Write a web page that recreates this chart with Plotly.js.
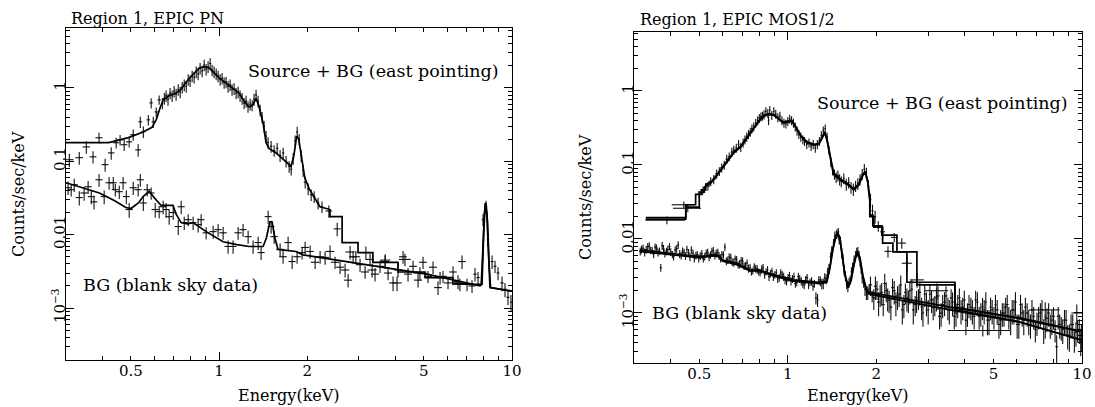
<!DOCTYPE html>
<html><head><meta charset="utf-8">
<script src="https://cdn.plot.ly/plotly-3.0.1.min.js"></script>
<style>html,body{margin:0;padding:0;background:#fff}#chart{width:1095px;height:407px}</style>
</head><body><div id="chart"></div>
<script>
// ---------- tick labels ----------
const xMajorVals = [1, 10];
const xMajorText = ['1', '10'];
const xMinorVals = [0.3,0.4,0.5,0.6,0.7,0.8,0.9,2,3,4,5,6,7,8,9];
const xMinorText = ['','','0.5','','','','','2','','','5','','','',''];
const yMajorVals = [0.001, 0.01, 0.1, 1];
const yMajorText = ['10<sup>\u22123</sup>', '0.01', '0.1', '1'];
const yMinorVals = [0.0002,0.0003,0.0004,0.0005,0.0006,0.0007,0.0008,0.0009,
  0.002,0.003,0.004,0.005,0.006,0.007,0.008,0.009,
  0.02,0.03,0.04,0.05,0.06,0.07,0.08,0.09,
  0.2,0.3,0.4,0.5,0.6,0.7,0.8,0.9,2,3,4,5,6];

// ---------- EPIC PN : Source + BG ----------
const pnSrcE = [0.308,0.333,0.352,0.371,0.389,0.408,0.428,0.445,0.459,0.474,0.493,0.509,0.529,0.538,0.551,0.573,0.586,0.596,0.610,0.624,
  0.640,0.650,0.659,0.669,0.680,0.691,0.702,0.713,0.725,0.736,0.748,0.760,0.772,0.784,
  0.796,0.809,0.822,0.835,0.848,0.861,0.875,0.889,0.903,0.917,
  0.932,0.946,0.961,0.977,0.992,1.008,1.024,1.040,
  1.056,1.073,1.090,1.107,1.125,1.143,1.161,1.179,
  1.198,1.217,1.236,1.255,1.276,1.296,1.316,
  1.337,1.358,1.380,1.402,1.424,1.446,1.469,
  1.505,1.541,1.578,1.615,1.654,1.693,
  1.734,1.762,1.790,1.818,1.847,1.876,1.906,1.936,
  1.967,2.014,2.062,2.111,2.177,2.245,
  2.37,2.53,2.80,2.93,3.17,3.33,3.69,4.05,4.31,4.85,5.68,6.64];
const pnSrcY = [0.105,0.112,0.157,0.115,0.209,0.090,0.130,0.179,0.196,0.168,0.184,0.23,0.143,0.345,0.252,0.367,0.625,0.345,0.47,0.687,
  0.62,0.72,0.78,0.70,0.85,0.78,0.90,0.82,0.95,0.88,1.02,1.10,1.05,1.30,
  1.25,1.45,1.40,1.65,1.55,1.85,1.70,2.05,1.80,1.95,
  2.15,1.75,1.65,1.55,1.45,1.30,1.35,1.18,
  1.20,1.05,1.10,0.95,0.98,0.85,0.88,0.78,
  0.72,0.62,0.66,0.56,0.60,0.58,0.70,
  0.80,0.66,0.50,0.40,0.30,0.22,0.18,
  0.16,0.14,0.15,0.12,0.13,0.10,
  0.085,0.078,0.11,0.19,0.25,0.20,0.12,0.075,
  0.052,0.042,0.035,0.033,0.027,0.024,
  0.021,0.012,0.0058,0.0050,0.0057,0.0033,0.0045,0.0022,0.0046,0.0030,0.0026,0.0021];
const pnSrcDE = [0.010,0.010,0.010,0.010,0.011,0.011,0.011,0.012,0.012,0.012,0.012,0.012,0.012,0.008,0.008,0.008,0.008,0.008,0.008,0.008,
  0.005,0.005,0.005,0.005,0.005,0.005,0.005,0.005,0.005,0.005,0.005,0.005,0.005,0.005,
  0.006,0.006,0.006,0.006,0.006,0.006,0.006,0.006,0.006,0.006,
  0.008,0.008,0.008,0.008,0.008,0.008,0.008,0.008,
  0.008,0.008,0.008,0.008,0.008,0.008,0.008,0.008,
  0.010,0.010,0.010,0.010,0.010,0.010,0.010,
  0.010,0.010,0.010,0.010,0.010,0.010,0.010,
  0.015,0.015,0.015,0.015,0.015,0.015,
  0.015,0.015,0.015,0.015,0.015,0.015,0.015,0.015,
  0.022,0.022,0.022,0.022,0.022,0.022,
  0.06,0.07,0.10,0.10,0.12,0.12,0.15,0.15,0.20,0.25,0.30,0.40];
const pnSrcDY = [0.022,0.022,0.03,0.022,0.035,0.018,0.025,0.03,0.032,0.03,0.03,0.04,0.028,0.06,0.045,0.06,0.1,0.06,0.07,0.1,
  0.11,0.13,0.14,0.13,0.15,0.14,0.16,0.15,0.17,0.16,0.18,0.20,0.19,0.23,
  0.22,0.26,0.25,0.30,0.28,0.33,0.30,0.37,0.32,0.35,
  0.38,0.31,0.30,0.28,0.26,0.23,0.24,0.21,
  0.21,0.19,0.20,0.17,0.18,0.15,0.16,0.14,
  0.13,0.11,0.12,0.10,0.11,0.10,0.13,
  0.14,0.12,0.09,0.07,0.054,0.04,0.032,
  0.029,0.025,0.027,0.022,0.023,0.018,
  0.015,0.014,0.02,0.034,0.045,0.036,0.022,0.0135,
  0.0094,0.0076,0.0063,0.0059,0.0049,0.0043,
  0.004,0.0025,0.0012,0.001,0.0012,0.0007,0.0009,0.0005,0.0009,0.0006,0.0005,0.0004];
const pnSrcModelE = [0.30,0.42,0.49,0.55,0.59,0.61,0.63,0.645,0.68,0.713,0.74,0.772,0.81,0.855,0.89,0.924,0.96,1.0,1.08,1.17,1.22,1.266,1.30,1.338,1.37,1.413,1.446,1.48,1.565,1.693,1.76,1.80,1.84,1.87,1.90,1.96,2.03,2.09,2.21,2.39,2.39,2.63,2.63,2.98,2.98,3.35,3.35,4.08,4.08,5.05,5.05,6.28,6.28,7.40,7.85,7.95,8.05,8.15,8.25,8.35,8.45,10];
const pnSrcModelY = [0.18,0.18,0.21,0.25,0.29,0.37,0.55,0.69,0.80,0.85,0.95,1.2,1.5,1.87,1.95,1.87,1.6,1.37,1.08,0.85,0.65,0.55,0.58,0.72,0.55,0.33,0.18,0.15,0.13,0.096,0.085,0.12,0.22,0.20,0.13,0.06,0.042,0.035,0.024,0.022,0.0176,0.0176,0.0078,0.0078,0.0057,0.0057,0.0042,0.0042,0.0031,0.0031,0.0026,0.0026,0.0022,0.0021,0.0021,0.006,0.02,0.027,0.015,0.004,0.0019,0.0017];

// ---------- EPIC PN : blank sky BG ----------
const pnBgE = [0.305,0.3125,0.320,0.333,0.346,0.357,0.366,0.374,0.389,0.405,0.421,0.435,0.442,0.456,0.470,0.482,0.493,0.509,0.529,0.538,
  0.551,0.568,0.586,0.605,0.624,0.644,0.659,0.675,0.697,0.725,0.742,0.760,0.784,0.815,0.848,0.868,0.903,0.954,0.992,1.032,
  1.073,1.116,1.161,1.207,1.256,1.306,1.359,1.391,1.470,1.505,1.541,1.615,1.653,1.720,1.775,1.846,1.920,1.966,2.045,2.127,
  2.212,2.300,2.392,2.488,2.588,2.692,2.756,2.867,3.028,3.150,3.276,3.407,3.544,3.686,3.774,3.925,4.082,4.246,4.416,4.593,
  4.777,4.968,5.167,5.375,5.590,5.814,6.047,6.290,6.541,6.751,7.022,7.303,7.477,7.656,7.962,8.153,8.28,8.55,8.75,8.96,
  9.245,9.465,9.69,9.92];
const pnBgY = [0.0436,0.041,0.048,0.032,0.037,0.045,0.033,0.028,0.056,0.033,0.051,0.051,0.041,0.0385,0.051,0.033,0.022,0.0436,0.041,0.056,
  0.027,0.041,0.037,0.022,0.0206,0.024,0.022,0.0176,0.020,0.0129,0.024,0.0146,0.016,0.0146,0.0137,0.016,0.0106,0.011,0.0117,0.0106,
  0.0069,0.0069,0.0106,0.0117,0.0094,0.0069,0.0078,0.0057,0.0176,0.0129,0.0094,0.0063,0.0050,0.0078,0.0043,0.0050,0.0057,0.0067,0.0059,0.0042,
  0.0050,0.0049,0.0059,0.0042,0.0036,0.0033,0.0024,0.0050,0.0039,0.0031,0.0046,0.0029,0.0037,0.0043,0.0030,0.0022,0.0033,0.0050,0.0029,0.0037,
  0.0024,0.0042,0.0027,0.0036,0.0019,0.0027,0.0022,0.0031,0.0023,0.0043,0.0021,0.0020,0.0029,0.0026,0.016,0.024,0.0086,0.0043,0.0037,0.0030,
  0.0022,0.0018,0.0014,0.0012];
const pnBgDE = [0.008,0.008,0.009,0.009,0.010,0.010,0.010,0.010,0.011,0.011,0.012,0.012,0.012,0.013,0.013,0.013,0.014,0.014,0.015,0.015,
  0.015,0.016,0.016,0.017,0.017,0.018,0.018,0.019,0.019,0.020,0.021,0.021,0.022,0.023,0.024,0.024,0.025,0.027,0.028,0.030,
  0.030,0.030,0.033,0.034,0.035,0.037,0.038,0.039,0.040,0.040,0.045,0.050,0.050,0.050,0.050,0.055,0.060,0.060,0.060,0.070,
  0.070,0.070,0.080,0.080,0.080,0.090,0.090,0.090,0.10,0.10,0.10,0.11,0.11,0.12,0.12,0.12,0.13,0.13,0.14,0.14,
  0.15,0.15,0.16,0.17,0.17,0.18,0.19,0.19,0.20,0.20,0.20,0.20,0.10,0.10,0.08,0.08,0.08,0.10,0.10,0.10,
  0.12,0.12,0.12,0.08];
const pnBgDY = [0.009,0.008,0.010,0.007,0.008,0.009,0.007,0.006,0.011,0.007,0.010,0.010,0.008,0.008,0.010,0.007,0.005,0.009,0.008,0.011,
  0.006,0.008,0.007,0.005,0.004,0.005,0.005,0.004,0.004,0.003,0.005,0.003,0.003,0.003,0.003,0.003,0.002,0.0022,0.0023,0.0021,
  0.0014,0.0014,0.0021,0.0023,0.0019,0.0014,0.0016,0.0012,0.0035,0.0026,0.0019,0.0013,0.001,0.0016,0.0009,0.001,0.0011,0.0013,0.0012,0.0008,
  0.001,0.001,0.0012,0.0008,0.0007,0.0007,0.0005,0.001,0.0008,0.0006,0.0009,0.0006,0.0007,0.0009,0.0006,0.0005,0.0007,0.001,0.0006,0.0007,
  0.0005,0.0008,0.0005,0.0007,0.0004,0.0005,0.0004,0.0006,0.0005,0.0009,0.0004,0.0004,0.0006,0.0005,0.003,0.005,0.0017,0.0009,0.0007,0.0006,
  0.0005,0.0004,0.0003,0.0003];
const pnBgModelE = [0.30,0.39,0.44,0.48,0.50,0.53,0.55,0.577,0.60,0.619,0.634,0.696,0.713,0.742,0.78,0.815,0.86,0.903,1.032,1.15,1.266,1.413,1.45,1.49,1.516,1.55,1.589,1.83,1.935,3.03,5.12,7.77,7.9,8.0,8.1,8.2,8.3,8.41,10];
const pnBgModelY = [0.051,0.037,0.029,0.0234,0.0227,0.027,0.033,0.039,0.032,0.028,0.025,0.025,0.019,0.0146,0.014,0.0146,0.0125,0.011,0.008,0.0073,0.0069,0.0069,0.009,0.015,0.015,0.009,0.0063,0.0059,0.0053,0.0040,0.0029,0.0020,0.0021,0.01,0.027,0.02,0.005,0.0019,0.0017];

// ---------- EPIC MOS1/2 : Source + BG ----------
const mosSrcE = [0.388,0.443,0.457,0.50,0.515,0.535,0.547,0.56,0.573,0.585,0.596,0.608,0.62,0.632,0.645,0.655,0.668,0.68,0.692,0.705,
  0.715,0.725,0.735,0.745,0.755,0.766,0.778,0.79,0.80,0.81,0.82,0.83,0.842,0.855,0.86,0.868,0.882,0.896,0.91,0.925,
  0.94,0.955,0.97,0.985,1.0,1.015,1.03,1.045,1.06,1.075,1.09,1.107,1.125,1.14,1.16,1.18,1.20,1.22,1.24,1.26,
  1.28,1.30,1.32,1.34,1.36,1.38,1.40,1.42,1.44,1.46,1.48,1.50,1.52,1.55,1.58,1.61,1.64,1.67,1.70,1.73,
  1.76,1.79,1.82,1.85,1.88,1.91,1.94,1.98,2.03,2.10,2.19,2.30,2.44,2.54,2.75,3.21,4.6,7.5,9.6];
const mosSrcY = [0.018,0.029,0.026,0.040,0.046,0.052,0.060,0.064,0.076,0.082,0.092,0.10,0.12,0.13,0.15,0.16,0.17,0.19,0.175,0.20,
  0.22,0.24,0.26,0.28,0.31,0.33,0.37,0.40,0.43,0.45,0.46,0.48,0.53,0.50,0.40,0.55,0.47,0.53,0.49,0.44,
  0.46,0.40,0.37,0.36,0.39,0.42,0.40,0.37,0.33,0.29,0.26,0.24,0.22,0.21,0.19,0.20,0.18,0.19,0.17,0.19,
  0.21,0.25,0.29,0.31,0.24,0.16,0.11,0.085,0.075,0.068,0.072,0.064,0.060,0.066,0.055,0.058,0.050,0.047,0.052,0.056,
  0.064,0.075,0.088,0.078,0.052,0.034,0.024,0.020,0.015,0.0125,0.0068,0.0105,0.0088,0.0047,0.0028,0.0020,0.00058,0.0011,0.0010];
const mosSrcDE = [0.06,0.04,0.05,0.014,0.012,0.01,0.01,0.008,0.008,0.007,0.007,0.007,0.006,0.006,0.006,0.005,0.005,0.005,0.005,0.005,
  0.005,0.005,0.005,0.005,0.005,0.005,0.005,0.005,0.005,0.005,0.005,0.005,0.005,0.005,0.005,0.005,0.005,0.005,0.005,0.005,
  0.006,0.006,0.006,0.006,0.006,0.006,0.006,0.006,0.006,0.006,0.007,0.007,0.007,0.007,0.007,0.007,0.007,0.007,0.007,0.008,
  0.008,0.008,0.008,0.008,0.008,0.008,0.008,0.009,0.009,0.009,0.009,0.01,0.01,0.01,0.01,0.01,0.011,0.011,0.011,0.011,
  0.012,0.012,0.012,0.012,0.013,0.013,0.014,0.016,0.03,0.04,0.06,0.06,0.08,0.10,0.15,0.30,1.1,0.9,0.4];
const mosSrcDY = [0.0022,0.003,0.003,0.004,0.005,0.007,0.008,0.009,0.011,0.011,0.013,0.014,0.017,0.018,0.021,0.022,0.024,0.027,0.025,0.028,
  0.031,0.034,0.036,0.039,0.043,0.046,0.052,0.056,0.06,0.063,0.064,0.067,0.074,0.07,0.056,0.077,0.066,0.074,0.069,0.062,
  0.064,0.056,0.052,0.05,0.055,0.059,0.056,0.052,0.046,0.041,0.036,0.034,0.031,0.029,0.027,0.028,0.025,0.027,0.024,0.027,
  0.029,0.035,0.041,0.043,0.034,0.022,0.015,0.013,0.012,0.011,0.012,0.011,0.01,0.011,0.01,0.01,0.009,0.009,0.009,0.01,
  0.011,0.013,0.015,0.014,0.01,0.007,0.005,0.004,0.0025,0.002,0.0012,0.0015,0.0014,0.001,0.0006,0.0005,0.0001,0.0003,0.0003];
const mos1SrcModelE = [0.329,0.45,0.45,0.486,0.486,0.51,0.51,0.526,0.526,0.547,0.573,0.596,0.62,0.655,0.692,0.725,0.766,0.81,0.842,0.87,0.896,0.93,0.96,1.0,1.03,1.06,1.107,1.16,1.226,1.275,1.31,1.335,1.357,1.40,1.43,1.514,1.587,1.677,1.74,1.80,1.835,1.87,1.90,1.90,1.946,1.946,2.088,2.088,2.349,2.349,2.747,2.747,3.70,3.70,6,10];
const mos1SrcModelY = [0.0195,0.0195,0.029,0.029,0.040,0.040,0.046,0.046,0.055,0.058,0.073,0.09,0.115,0.15,0.18,0.235,0.32,0.43,0.48,0.49,0.48,0.43,0.38,0.39,0.40,0.34,0.25,0.205,0.19,0.195,0.24,0.28,0.23,0.12,0.078,0.064,0.057,0.048,0.055,0.075,0.082,0.06,0.035,0.021,0.021,0.015,0.015,0.0113,0.0113,0.0067,0.0067,0.0024,0.0024,0.0012,0.00085,0.00056];
const mos2SrcModelE = [0.329,0.45,0.45,0.50,0.50,0.52,0.52,0.547,0.573,0.596,0.62,0.655,0.692,0.725,0.766,0.81,0.842,0.87,0.896,0.93,0.96,1.0,1.03,1.06,1.107,1.16,1.226,1.275,1.31,1.335,1.357,1.40,1.43,1.514,1.587,1.677,1.74,1.80,1.835,1.87,1.90,1.90,1.96,1.96,2.10,2.10,2.276,2.276,2.54,2.54,3.70,3.70,6,10];
const mos2SrcModelY = [0.0185,0.0185,0.027,0.027,0.043,0.043,0.050,0.057,0.071,0.087,0.11,0.145,0.175,0.23,0.31,0.42,0.47,0.48,0.47,0.42,0.37,0.38,0.39,0.33,0.245,0.2,0.185,0.19,0.235,0.27,0.22,0.115,0.075,0.062,0.055,0.046,0.053,0.072,0.079,0.058,0.033,0.02,0.02,0.0145,0.0145,0.0088,0.0088,0.0067,0.0067,0.0026,0.0026,0.0011,0.00078,0.00043];

// ---------- EPIC MOS1 : blank sky BG ----------
const mosBgE = [0.315,0.322,0.330,0.338,0.346,0.354,0.362,0.370,0.378,0.387,0.396,0.405,0.414,0.424,0.434,0.444,0.454,0.465,0.476,0.487,
  0.498,0.510,0.522,0.534,0.546,0.558,0.571,0.584,0.597,0.611,0.625,0.640,0.655,0.670,0.686,0.702,0.718,0.735,0.752,0.769,
  0.787,0.805,0.824,0.843,0.863,0.883,0.903,0.924,0.946,0.968,0.990,1.013,1.037,1.061,1.086,1.111,1.137,1.163,1.190,1.218,
  1.246,1.262,1.275,1.305,1.335,1.366,1.398,1.430,1.463,1.485,1.510,1.540,1.570,1.600,1.630,1.660,1.700,1.730,1.760,1.790,
  1.830,1.870,1.91,1.96,2.01,2.06,2.11,2.16,2.21,2.27,2.33,2.39,2.45,2.51,2.57,2.64,2.71,2.78,2.85,2.92,
  3.00,3.08,3.16,3.24,3.32,3.41,3.50,3.59,3.68,3.78,3.88,3.98,4.08,4.19,4.30,4.41,4.53,4.65,4.77,4.89,
  5.02,5.15,5.29,5.43,5.57,5.72,5.87,6.02,6.18,6.34,6.51,6.68,6.85,7.03,7.22,7.41,7.60,7.80,8.00,8.20,
  8.40,8.60,8.83,9.06,9.30,9.54,9.79,9.95];
const mosBgY = [0.0068,0.0075,0.0072,0.0080,0.0070,0.0078,0.0066,0.0041,0.0074,0.0068,0.0079,0.0062,0.0071,0.0083,0.0060,0.0066,0.0072,0.0057,0.0064,0.0060,
  0.0055,0.0063,0.0058,0.0066,0.0061,0.0070,0.0064,0.0059,0.0062,0.0078,0.0052,0.0056,0.0048,0.0053,0.0046,0.0050,0.0044,0.0040,0.0036,0.0042,
  0.0039,0.0035,0.0041,0.0036,0.0031,0.0037,0.0033,0.0029,0.0035,0.0031,0.0027,0.0032,0.0029,0.0025,0.0031,0.0027,0.0024,0.0030,0.0026,0.0023,
  0.0016,0.0015,0.0028,0.0025,0.0030,0.0036,0.0058,0.0088,0.0115,0.0125,0.0095,0.0055,0.0032,0.0023,0.0028,0.0042,0.0060,0.0068,0.0050,0.0030,
  0.0021,0.0019,0.0024,0.0016,0.0021,0.0018,0.0013,0.0020,0.0015,0.0022,0.0014,0.0018,0.0011,0.0019,0.0015,0.0021,0.0013,0.0016,0.0012,0.0018,
  0.0011,0.0015,0.0013,0.0017,0.0010,0.0014,0.0012,0.0016,0.0009,0.0013,0.0011,0.0015,0.0010,0.0012,0.0009,0.0014,0.0010,0.0011,0.0008,0.0012,
  0.0009,0.0011,0.0008,0.0010,0.0013,0.0008,0.0011,0.0007,0.0013,0.0008,0.0010,0.0007,0.0009,0.00075,0.0010,0.0006,0.00085,0.0007,0.0009,0.00035,
  0.0007,0.0006,0.0008,0.0005,0.0007,0.00055,0.0006,0.0005];
const mosBgDE = [0.003,0.003,0.003,0.003,0.003,0.003,0.003,0.003,0.003,0.003,0.003,0.003,0.003,0.003,0.003,0.003,0.003,0.003,0.003,0.003,
  0.003,0.004,0.004,0.004,0.004,0.004,0.004,0.004,0.004,0.004,0.004,0.004,0.004,0.004,0.004,0.004,0.004,0.004,0.004,0.006,
  0.006,0.006,0.006,0.006,0.006,0.006,0.006,0.006,0.006,0.006,0.006,0.01,0.01,0.01,0.01,0.01,0.01,0.01,0.01,0.01,
  0.01,0.01,0.01,0.01,0.01,0.01,0.01,0.01,0.01,0.01,0.01,0.01,0.01,0.01,0.01,0.01,0.01,0.01,0.01,0.01,
  0.01,0.01,0.025,0.025,0.025,0.025,0.025,0.025,0.025,0.025,0.025,0.025,0.025,0.025,0.025,0.025,0.025,0.025,0.025,0.025,
  0.025,0.04,0.04,0.04,0.04,0.04,0.04,0.04,0.04,0.04,0.04,0.04,0.04,0.04,0.04,0.04,0.04,0.04,0.04,0.04,
  0.04,0.06,0.06,0.06,0.06,0.06,0.06,0.06,0.06,0.06,0.06,0.06,0.06,0.06,0.09,0.09,0.09,0.09,0.09,0.09,
  0.09,0.09,0.09,0.09,0.09,0.09,0.09,0.09];
const mosBgDY = [0.0008,0.0009,0.0009,0.001,0.0008,0.0009,0.0008,0.0005,0.0009,0.0008,0.0009,0.0007,0.0009,0.001,0.0007,0.0008,0.0009,0.0007,0.0008,0.0007,
  0.0007,0.0008,0.0007,0.0008,0.0007,0.0008,0.0008,0.0007,0.0007,0.0009,0.0006,0.0007,0.0006,0.0006,0.0006,0.0006,0.0005,0.0005,0.0004,0.0005,
  0.0005,0.0004,0.0005,0.0004,0.0004,0.0004,0.0004,0.00035,0.0004,0.0004,0.00035,0.0004,0.00035,0.0003,0.0004,0.00035,0.0003,0.00035,0.0003,0.0003,
  0.0003,0.0003,0.00035,0.0004,0.00045,0.0005,0.0008,0.0012,0.0015,0.0016,0.0013,0.0008,0.0005,0.0004,0.0004,0.0006,0.0009,0.001,0.0008,0.0005,
  0.0004,0.0004,0.0007,0.0005,0.0006,0.0006,0.0004,0.0006,0.0005,0.0007,0.0005,0.0006,0.0004,0.0006,0.0005,0.0007,0.0004,0.0005,0.0004,0.0006,
  0.0004,0.0005,0.0004,0.0006,0.00035,0.0005,0.0004,0.0005,0.0003,0.00045,0.0004,0.0005,0.00035,0.0004,0.0003,0.0005,0.00035,0.0004,0.0003,0.0004,
  0.0003,0.0004,0.0003,0.00035,0.00045,0.0003,0.0004,0.00025,0.00045,0.0003,0.00035,0.00025,0.0003,0.00026,0.00035,0.00022,0.0003,0.00025,0.0003,0.00015,
  0.00025,0.00022,0.0003,0.0002,0.00025,0.0002,0.00022,0.0002];

// ---------- EPIC MOS2 : blank sky BG ----------
const mos2BgE = [0.318,0.326,0.334,0.342,0.350,0.358,0.366,0.374,0.382,0.391,0.400,0.409,0.419,0.429,0.439,0.449,0.460,0.470,0.481,0.492,
  0.504,0.516,0.528,0.540,0.552,0.565,0.578,0.591,0.604,0.618,0.632,0.647,0.662,0.678,0.694,0.710,0.727,0.744,0.760,0.778,
  0.796,0.815,0.834,0.853,0.873,0.893,0.914,0.935,0.957,0.979,1.001,1.025,1.049,1.073,1.098,1.124,1.150,1.176,1.204,1.232,
  1.29,1.32,1.35,1.38,1.41,1.445,1.47,1.495,1.525,1.555,1.585,1.615,1.645,1.68,1.715,1.745,1.775,1.81,1.85,1.89,1.935,
  1.985,2.035,2.085,2.135,2.185,2.24,2.30,2.36,2.42,2.48,2.54,2.60,2.67,2.74,2.81,2.88,2.96,3.04,3.12,3.20,
  3.28,3.36,3.45,3.54,3.63,3.73,3.83,3.93,4.03,4.13,4.24,4.35,4.47,4.59,4.71,4.83,4.95,5.08,5.22,5.36,
  5.50,5.64,5.79,5.94,6.10,6.26,6.42,6.59,6.76,6.94,7.12,7.31,7.50,7.70,7.90,8.10,8.30,8.50,8.72,8.94,
  9.18,9.42,9.66,9.90];
const mos2BgY = [0.0072,0.0066,0.0079,0.0070,0.0063,0.0075,0.0069,0.0081,0.0064,0.0072,0.0067,0.0058,0.0074,0.0063,0.0069,0.0059,0.0065,0.0071,0.0055,0.0062,
  0.0059,0.0054,0.0064,0.0057,0.0068,0.0060,0.0066,0.0055,0.0061,0.0050,0.0057,0.0049,0.0054,0.0045,0.0051,0.0043,0.0047,0.0041,0.0037,0.0040,
  0.0036,0.0039,0.0033,0.0038,0.0034,0.0031,0.0035,0.0030,0.0033,0.0028,0.0030,0.0027,0.0031,0.0026,0.0029,0.0025,0.0028,0.0024,0.0027,0.0025,
  0.0027,0.0025,0.0029,0.0040,0.0070,0.0110,0.0118,0.0098,0.0065,0.0038,0.0025,0.0026,0.0036,0.0052,0.0066,0.0060,0.0040,0.0026,0.0018,0.0021,0.0017,
  0.0023,0.0014,0.0019,0.0025,0.0016,0.0012,0.0020,0.0017,0.0024,0.0013,0.0016,0.0020,0.0011,0.0015,0.0019,0.0010,0.0014,0.0018,0.0012,0.0016,
  0.0009,0.0013,0.0017,0.0011,0.0014,0.0010,0.0016,0.0012,0.0008,0.0013,0.0011,0.0015,0.0009,0.0012,0.0014,0.0008,0.0011,0.0013,0.0007,0.0010,
  0.0012,0.0009,0.0011,0.0014,0.0007,0.0010,0.0012,0.0008,0.0011,0.0006,0.0009,0.0011,0.0007,0.0010,0.0008,0.0006,0.0009,0.00065,0.0008,0.0005,
  0.0007,0.00045,0.0006,0.0004];
const mos2BgDE = [0.003,0.003,0.003,0.003,0.003,0.003,0.003,0.003,0.003,0.003,0.003,0.003,0.003,0.003,0.003,0.003,0.003,0.003,0.003,0.003,
  0.004,0.004,0.004,0.004,0.004,0.004,0.004,0.004,0.004,0.004,0.004,0.004,0.004,0.004,0.004,0.004,0.004,0.004,0.004,0.006,
  0.006,0.006,0.006,0.006,0.006,0.006,0.006,0.006,0.006,0.006,0.006,0.006,0.006,0.006,0.006,0.006,0.006,0.006,0.006,0.006,
  0.01,0.01,0.01,0.01,0.01,0.01,0.01,0.01,0.01,0.01,0.01,0.01,0.01,0.01,0.01,0.01,0.01,0.01,0.01,0.01,0.01,
  0.025,0.025,0.025,0.025,0.025,0.025,0.025,0.025,0.025,0.025,0.025,0.025,0.025,0.025,0.025,0.025,0.025,0.025,0.04,0.04,
  0.04,0.04,0.04,0.04,0.04,0.04,0.04,0.04,0.04,0.04,0.04,0.04,0.04,0.04,0.04,0.04,0.04,0.04,0.06,0.06,
  0.06,0.06,0.06,0.06,0.06,0.06,0.06,0.06,0.06,0.06,0.06,0.09,0.09,0.09,0.09,0.09,0.09,0.09,0.09,0.09,
  0.09,0.09,0.09,0.09];
const mos2BgDY = [0.0009,0.0008,0.0009,0.0008,0.0008,0.0009,0.0008,0.001,0.0008,0.0009,0.0008,0.0007,0.0009,0.0008,0.0008,0.0007,0.0008,0.0009,0.0007,0.0007,
  0.0007,0.0006,0.0008,0.0007,0.0008,0.0007,0.0008,0.0007,0.0007,0.0006,0.0007,0.0006,0.0006,0.0005,0.0006,0.0005,0.0006,0.0005,0.0004,0.0005,
  0.0004,0.0005,0.0004,0.0005,0.0004,0.0004,0.0004,0.00035,0.0004,0.00035,0.00035,0.00035,0.0004,0.0003,0.00035,0.0003,0.00035,0.0003,0.00035,0.0003,
  0.0004,0.0004,0.00045,0.0006,0.001,0.0016,0.0017,0.0014,0.001,0.0006,0.0004,0.0004,0.00055,0.0008,0.001,0.0009,0.0006,0.0004,0.0003,0.00035,0.0003,
  0.0008,0.0005,0.00065,0.0009,0.00055,0.0004,0.0007,0.0006,0.0008,0.00045,0.00055,0.0007,0.0004,0.0005,0.00065,0.00035,0.0005,0.0006,0.0004,0.00055,
  0.0003,0.00045,0.0006,0.0004,0.0005,0.00035,0.00055,0.0004,0.0003,0.00045,0.0004,0.0005,0.0003,0.0004,0.0005,0.0003,0.0004,0.00045,0.00025,0.00035,
  0.0004,0.0003,0.0004,0.0005,0.00025,0.00035,0.0004,0.0003,0.0004,0.0002,0.0003,0.0004,0.00025,0.00035,0.0003,0.0002,0.0003,0.00023,0.0003,0.00018,
  0.00025,0.00016,0.0002,0.00014];
const mos1BgModelE = [0.314,0.419,0.50,0.556,0.58,0.601,0.671,0.743,0.803,0.889,1.04,1.285,1.357,1.39,1.423,1.455,1.479,1.505,1.53,1.56,1.60,1.64,1.67,1.70,1.73,1.76,1.80,1.857,1.90,3.556,6.15,10];
const mos1BgModelY = [0.0071,0.0062,0.0058,0.0061,0.0060,0.0052,0.0047,0.0038,0.0038,0.0033,0.0028,0.0026,0.0027,0.0042,0.0075,0.0110,0.0122,0.0100,0.0062,0.0035,0.0023,0.0028,0.0042,0.0058,0.0068,0.0055,0.0032,0.0020,0.0019,0.0012,0.00086,0.00056];
const mos2BgModelY = [0.0068,0.0060,0.0056,0.0059,0.0058,0.0050,0.0045,0.0037,0.0037,0.0032,0.0027,0.0025,0.0026,0.0040,0.0072,0.0105,0.0118,0.0096,0.0060,0.0034,0.0022,0.0027,0.0040,0.0056,0.0065,0.0052,0.0030,0.0019,0.0018,0.0011,0.00075,0.00043];

// ---------- build ----------
const SERIF = 'DejaVu Serif, serif';
function dataTrace(E, Y, dE, dY, xa, ya) {
  return {type:'scatter', mode:'markers', x:E, y:Y, xaxis:xa, yaxis:ya,
    marker:{size:1, color:'#111'}, hoverinfo:'skip', showlegend:false,
    error_x:{type:'data', array:dE, visible:true, thickness:1.1, width:0, color:'#111'},
    error_y:{type:'data', array:dY, visible:true, thickness:1.1, width:0, color:'#111'}};
}
function modelTrace(E, Y, xa, ya) {
  return {type:'scatter', mode:'lines', x:E, y:Y, xaxis:xa, yaxis:ya,
    line:{color:'#000', width:1.7}, hoverinfo:'skip', showlegend:false};
}
function emptyTrace(xa, ya) {
  return {type:'scatter', mode:'markers', x:[], y:[], xaxis:xa, yaxis:ya, showlegend:false, hoverinfo:'skip'};
}

const traces = [
  dataTrace(pnBgE, pnBgY, pnBgDE, pnBgDY, 'x', 'y'),
  dataTrace(pnSrcE, pnSrcY, pnSrcDE, pnSrcDY, 'x', 'y'),
  modelTrace(pnBgModelE, pnBgModelY, 'x', 'y'),
  modelTrace(pnSrcModelE, pnSrcModelY, 'x', 'y'),
  dataTrace(mosBgE, mosBgY, mosBgDE, mosBgDY, 'x2', 'y2'),
  dataTrace(mos2BgE, mos2BgY, mos2BgDE, mos2BgDY, 'x2', 'y2'),
  dataTrace(mosSrcE, mosSrcY, mosSrcDE, mosSrcDY, 'x2', 'y2'),
  modelTrace(mos1BgModelE, mos1BgModelY, 'x2', 'y2'),
  modelTrace(mos1BgModelE, mos2BgModelY, 'x2', 'y2'),
  modelTrace(mos1SrcModelE, mos1SrcModelY, 'x2', 'y2'),
  modelTrace(mos2SrcModelE, mos2SrcModelY, 'x2', 'y2'),
  emptyTrace('x3', 'y'), emptyTrace('x', 'y3'),
  emptyTrace('x4', 'y2'), emptyTrace('x2', 'y4')
];

const xr = [Math.log10(0.3), 1];
const tickFont = {family: SERIF, size: 15, color: '#000'};
function xMain(dom, anchor) {
  return {domain: dom, anchor: anchor, type: 'log', range: xr, tickmode: 'array',
    tickvals: xMajorVals, ticktext: xMajorText, ticks: 'inside', ticklen: 8, tickwidth: 1, tickcolor: '#000',
    showline: true, linecolor: '#000', linewidth: 1, mirror: 'ticks', showgrid: false, zeroline: false,
    tickfont: tickFont, ticklabelstandoff: -3, fixedrange: true};
}
function xMinor(over, anchor) {
  return {overlaying: over, anchor: anchor, side: 'bottom', type: 'log', range: xr, tickmode: 'array',
    tickvals: xMinorVals, ticktext: xMinorText, ticks: 'inside', ticklen: 4, tickwidth: 1, tickcolor: '#000',
    showline: false, mirror: 'ticks', showgrid: false, zeroline: false, tickfont: tickFont, ticklabelstandoff: 0, fixedrange: true};
}
function yMain(dom, anchor, rng) {
  return {domain: dom, anchor: anchor, type: 'log', range: rng, tickmode: 'array',
    tickvals: yMajorVals, ticktext: yMajorText, ticks: 'inside', ticklen: 8, tickwidth: 1, tickcolor: '#000',
    showline: true, linecolor: '#000', linewidth: 1, mirror: 'ticks', showgrid: false, zeroline: false,
    tickfont: tickFont, tickangle: -90, ticklabelstandoff: -6, fixedrange: true};
}
function yMinor(over, anchor, rng) {
  return {overlaying: over, anchor: anchor, side: 'left', type: 'log', range: rng, tickmode: 'array',
    tickvals: yMinorVals, ticks: 'inside', ticklen: 4, tickwidth: 1, tickcolor: '#000', showticklabels: false,
    showline: false, mirror: 'ticks', showgrid: false, zeroline: false, fixedrange: true};
}
const yrL = [-3.708, 0.816];
const yrR = [-3.676, 0.797];

function ann(text, x, y, opts) {
  return Object.assign({text: text, x: x, y: y, xref: 'paper', yref: 'paper', showarrow: false,
    xanchor: 'left', yanchor: 'middle', font: {family: SERIF, size: 17.5, color: '#000'}}, opts || {});
}
const titleFont = {family: SERIF, size: 16, color: '#000'};

const layout = {
  width: 1095, height: 407, margin: {l: 0, r: 0, t: 0, b: 0},
  paper_bgcolor: '#fff', plot_bgcolor: '#fff', showlegend: false,
  xaxis: xMain([66/1095, 512/1095], 'y'),
  yaxis: yMain([1-360/407, 1-28/407], 'x', yrL),
  xaxis3: xMinor('x', 'y'),
  yaxis3: yMinor('y', 'x', yrL),
  xaxis2: xMain([634/1095, 1082/1095], 'y2'),
  yaxis2: yMain([1-363/407, 1-32/407], 'x2', yrR),
  xaxis4: xMinor('x2', 'y2'),
  yaxis4: yMinor('y2', 'x2', yrR),
  annotations: [
    ann('Region 1, EPIC PN', 69/1095, 1-18/407, {font: titleFont}),
    ann('Region 1, EPIC MOS1/2', 638/1095, 1-20/407, {font: titleFont}),
    ann('Source + BG (east pointing)', 246/1095, 1-71/407),
    ann('Source + BG (east pointing)', 815/1095, 1-103/407),
    ann('BG (blank sky data)', 81/1095, 1-285/407),
    ann('BG (blank sky data)', 650/1095, 1-313/407),
    ann('Energy(keV)', 289/1095, 1-395/407, {xanchor: 'center', font: titleFont}),
    ann('Energy(keV)', 858/1095, 1-395/407, {xanchor: 'center', font: titleFont}),
    ann('Counts/sec/keV', 18/1095, 1-194/407, {xanchor: 'center', textangle: -90, font: titleFont}),
    ann('Counts/sec/keV', 585/1095, 1-197/407, {xanchor: 'center', textangle: -90, font: titleFont})
  ]
};

Plotly.newPlot('chart', traces, layout, {staticPlot: true, displayModeBar: false});
</script></body></html>
